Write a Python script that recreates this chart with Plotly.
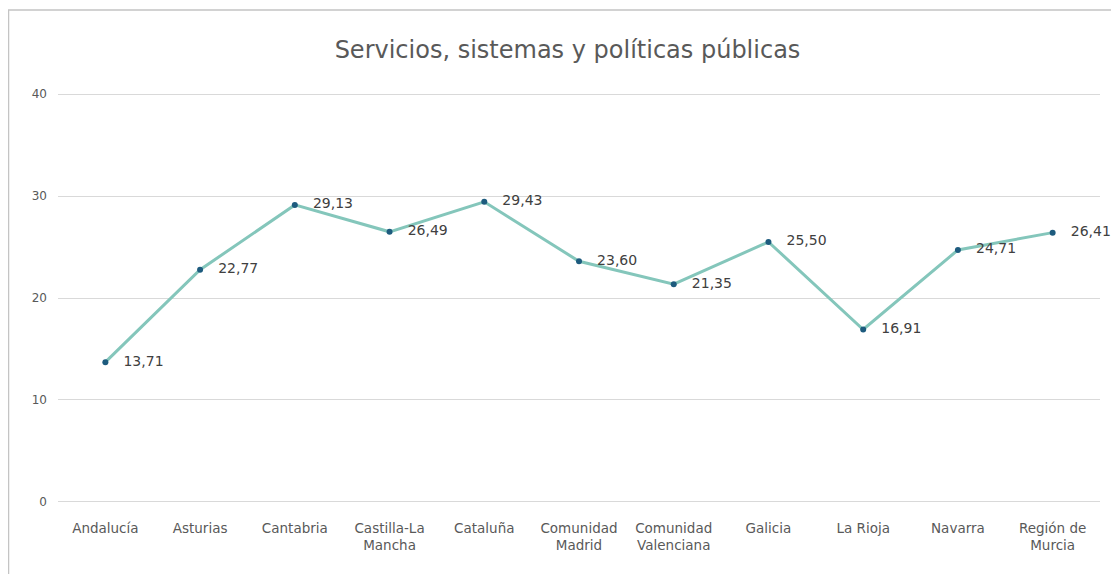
import plotly.graph_objects as go

regiones = [
    "Andalucía", "Asturias", "Cantabria", "Castilla-La<br>Mancha", "Cataluña",
    "Comunidad<br>Madrid", "Comunidad<br>Valenciana", "Galicia", "La Rioja",
    "Navarra", "Región de<br>Murcia",
]
valores = [13.71, 22.77, 29.13, 26.49, 29.43, 23.60, 21.35, 25.50, 16.91, 24.71, 26.41]

LINE_COLOR = "#84c6bb"
MARKER_COLOR = "#1d5b7e"
TEXT_COLOR = "#595959"
FONT = "DejaVu Sans"

fig = go.Figure()
fig.add_trace(go.Scatter(
    x=regiones,
    y=valores,
    mode="lines+markers+text",
    line=dict(color=LINE_COLOR, width=3),
    marker=dict(color=MARKER_COLOR, size=6),
    text=["   " + f"{v:.2f}".replace(".", ",") for v in valores],
    textposition="middle right",
    textfont=dict(family=FONT, size=14, color="#404040"),
    cliponaxis=False,
    showlegend=False,
))

# marco del gráfico (recortado por la derecha y por abajo, como en la captura)
fig.add_shape(
    type="rect", xref="paper", yref="paper",
    x0=-0.0475, x1=1.2, y0=-0.4, y1=1.199,
    line=dict(color="#c4c4c4", width=1.5),
)

fig.update_layout(
    width=1119, height=574,
    margin=dict(l=50, r=27, t=84, b=78),
    paper_bgcolor="white",
    plot_bgcolor="white",
    separators=",.",
    title=dict(
        text="Servicios, sistemas y políticas públicas",
        x=0.5, xanchor="center", y=0.927, yanchor="middle",
        font=dict(family=FONT, size=24, color=TEXT_COLOR),
    ),
    font=dict(family=FONT, size=12, color=TEXT_COLOR),
)
fig.update_xaxes(
    range=[-0.5, 10.5],
    showgrid=False, showline=False, zeroline=False,
    tickfont=dict(family=FONT, size=13.5, color=TEXT_COLOR),
    ticks="", ticklabelstandoff=14, automargin=False,
)
fig.update_yaxes(
    range=[-0.2, 40.2], tickvals=[0, 10, 20, 30, 40],
    showgrid=True, gridcolor="#d9d9d9", gridwidth=1,
    zeroline=False, showline=False,
    tickfont=dict(family=FONT, size=12, color=TEXT_COLOR),
    ticklabelstandoff=10, automargin=False,
)

fig.write_html("out.html")
